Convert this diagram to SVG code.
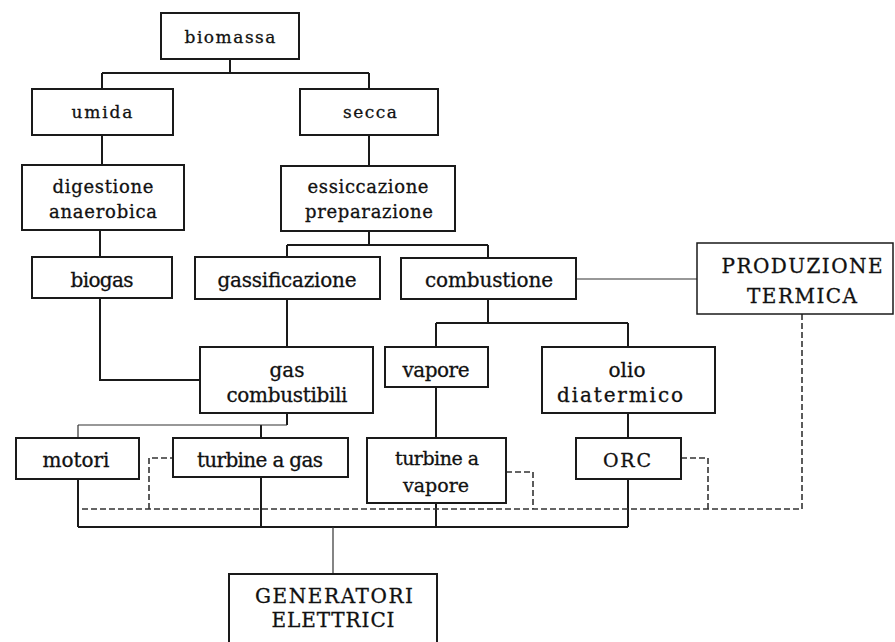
<svg xmlns="http://www.w3.org/2000/svg" width="895" height="642" viewBox="0 0 895 642">
<style>
.box{fill:#fff;stroke:#1a1a1a;stroke-width:2}
.t{fill:#111;stroke:#111;stroke-width:0.3;text-anchor:middle}
.c{fill:none;stroke:#1a1a1a;stroke-width:2}
.thin{fill:none;stroke:#333;stroke-width:1.2}
.d{fill:none;stroke:#333;stroke-width:1.6;stroke-dasharray:6 3}
</style>
<rect width="895" height="642" fill="#fff"/>
<g id="connectors">
<path class="c" d="M230,59V73M102,73H369M102,73V89M369,73V89"/>
<path class="c" d="M102,135V165M369,135V166"/>
<path class="c" d="M100,230V257M369,231V245M287,245H488M287,245V257M488,245V258"/>
<path class="c" d="M100,298V380H200M287,299V347"/>
<path class="c" d="M488,299V323M436,323H628M436,323V347M628,323V347"/>
<path class="thin" d="M576,279H697"/>
<path class="c" d="M287,413V425M261,425V438"/>
<path class="thin" d="M78,425H287M78,425V438"/>
<path class="c" d="M436,387V438M628,413V438"/>
<path class="c" d="M78,479V527M261,477V527M436,503V527M628,479V527M78,527H628"/>
<path class="thin" d="M333,527V574"/>
<path class="d" d="M802,314V509H82M149,509V458H173M506,472H533V509M681,458H708V509"/>
</g>
<g font-family="'DejaVu Serif', 'Liberation Serif', serif">
<g id="biomassa"><rect class="box" x="161" y="13" width="138" height="46"/><text class="t" x="230" y="43" font-size="17" textLength="91">biomassa</text></g>
<g id="umida"><rect class="box" x="32" y="89" width="141" height="46"/><text class="t" x="102" y="118" font-size="17" textLength="61">umida</text></g>
<g id="secca"><rect class="box" x="300" y="89" width="138" height="46"/><text class="t" x="370" y="118" font-size="17" textLength="54">secca</text></g>
<g id="digestione"><rect class="box" x="22" y="165" width="162" height="65"/><text class="t" x="103" y="193" font-size="18" textLength="101">digestione</text><text class="t" x="103" y="218" font-size="18" textLength="108">anaerobica</text></g>
<g id="essiccazione"><rect class="box" x="281" y="166" width="174" height="65"/><text class="t" x="368" y="193" font-size="18" textLength="121">essiccazione</text><text class="t" x="369" y="218" font-size="18" textLength="128">preparazione</text></g>
<g id="biogas"><rect class="box" x="32" y="257" width="140" height="41"/><text class="t" x="102" y="287" font-size="20" textLength="63">biogas</text></g>
<g id="gassificazione"><rect class="box" x="195" y="257" width="185" height="42"/><text class="t" x="287" y="287" font-size="20" textLength="139">gassificazione</text></g>
<g id="combustione"><rect class="box" x="401" y="258" width="175" height="41"/><text class="t" x="489" y="287" font-size="20" textLength="128">combustione</text></g>
<g id="produzione"><rect class="box" x="697" y="243" width="196" height="71" style="stroke-width:1.5"/><text class="t" x="802" y="273" font-size="20" textLength="161">PRODUZIONE</text><text class="t" x="802" y="303" font-size="20" textLength="110">TERMICA</text></g>
<g id="gas-combustibili"><rect class="box" x="200" y="347" width="173" height="66"/><text class="t" x="287" y="377" font-size="20">gas</text><text class="t" x="287" y="402" font-size="20" textLength="121">combustibili</text></g>
<g id="vapore"><rect class="box" x="385" y="347" width="103" height="40"/><text class="t" x="436" y="377" font-size="20" textLength="67">vapore</text></g>
<g id="olio"><rect class="box" x="542" y="347" width="173" height="66"/><text class="t" x="627" y="377" font-size="20">olio</text><text class="t" x="620" y="402" font-size="20" textLength="126">diatermico</text></g>
<g id="motori"><rect class="box" x="16" y="438" width="123" height="41"/><text class="t" x="76" y="467" font-size="20" textLength="67">motori</text></g>
<g id="turbine-gas"><rect class="box" x="173" y="438" width="175" height="39"/><text class="t" x="260" y="467" font-size="20" textLength="126">turbine a gas</text></g>
<g id="turbine-vapore"><rect class="box" x="367" y="438" width="139" height="65"/><text class="t" x="437" y="465" font-size="19" textLength="84">turbine a</text><text class="t" x="436" y="492" font-size="19" textLength="66">vapore</text></g>
<g id="orc"><rect class="box" x="576" y="438" width="105" height="41"/><text class="t" x="627" y="467" font-size="19" textLength="48">ORC</text></g>
<g id="generatori"><rect class="box" x="229" y="574" width="208" height="80"/><text class="t" x="334" y="603" font-size="20" textLength="158">GENERATORI</text><text class="t" x="333" y="627" font-size="20" textLength="123">ELETTRICI</text></g>
</g>
</svg>
